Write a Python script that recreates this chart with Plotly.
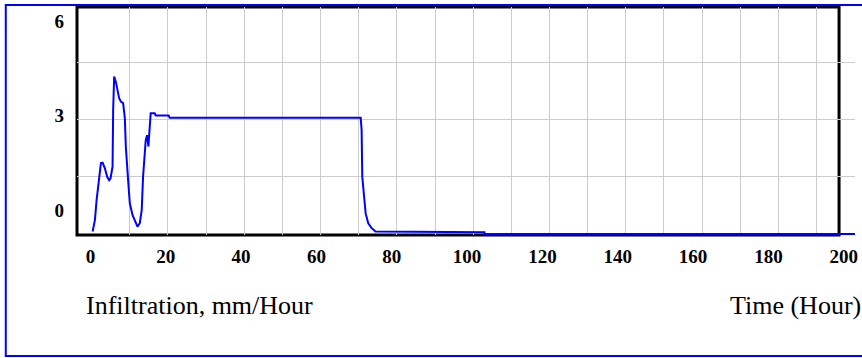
import plotly.graph_objects as go

# Data
time_hours = [0.58, 1.19, 1.64, 2.25, 2.78, 3.23, 3.84, 4.44, 4.97, 5.34, 5.87, 6.03, 6.30,
              6.75, 7.20, 7.62, 8.07, 8.68, 9.13, 9.39, 10.0, 10.45, 11.16, 11.77, 12.49,
              13.1, 13.62, 13.97, 14.42, 14.68, 15.03, 15.4, 15.56, 16.0, 17.06, 17.33,
              20.77, 21.03, 71.75, 72.0, 72.17, 72.62, 73.07, 73.76, 74.66, 75.71,
              104.6, 104.6, 203.0]
infiltration = [0.03, 0.34, 0.87, 1.39, 1.84, 1.85, 1.70, 1.48, 1.39, 1.44, 1.75, 3.25, 4.13,
                3.99, 3.73, 3.56, 3.47, 3.43, 3.03, 2.28, 1.39, 0.78, 0.47, 0.34, 0.16,
                0.25, 0.60, 1.48, 2.10, 2.45, 2.58, 2.28, 2.54, 3.16, 3.16, 3.10,
                3.10, 3.04, 3.04, 2.72, 1.48, 0.95, 0.51, 0.25, 0.12, 0.03,
                0.01, -0.035, -0.035]

x_tick_labels = ["0", "20", "40", "60", "80", "100", "120", "140", "160", "180", "200"]
x_tick_values = [0, 20, 40, 60, 80, 100, 120, 140, 160, 180, 200]
y_tick_labels = ["0", "3", "6"]

x_title = "Infiltration, mm/Hour"
x_title_right = "Time (Hour)"

FONT = "Liberation Serif, Times New Roman, serif"
GRID = "#cccccc"

# layout geometry (pixels)
W, H = 862, 358
L, R, T, B = 77, 4, 7, 123
pw = W - L - R
ph = H - T - B

def px_x(p):
    return (p - L) / pw

def px_y(p):
    return (H - B - p) / ph

fig = go.Figure()
fig.add_trace(go.Scatter(
    x=time_hours, y=infiltration, mode="lines",
    line=dict(color="#0000ff", width=2),
    showlegend=False, hoverinfo="skip",
))

grid_x = [10.45 + 10.13 * k for k in range(19)]

fig.update_layout(
    width=W, height=H,
    margin=dict(l=L, r=R, t=T, b=B, pad=0),
    paper_bgcolor="white", plot_bgcolor="white",
    font=dict(family=FONT, color="black"),
    xaxis=dict(
        range=[-3.57, 203.0],
        tickmode="array", tickvals=x_tick_values, ticktext=x_tick_labels,
        showgrid=False, zeroline=False, showline=False,
        ticks="", ticklabelstandoff=8,
        tickfont=dict(family=FONT, size=19, color="black", weight="bold"),
        minor=dict(tickmode="array", tickvals=grid_x, showgrid=True,
                   gridcolor=GRID, gridwidth=1, ticks=""),
    ),
    yaxis=dict(
        range=[-0.061, 5.971],
        tickmode="array", tickvals=[0.6, 3.1, 5.6], ticktext=y_tick_labels,
        showgrid=False, zeroline=False, showline=False,
        ticks="", ticklabelstandoff=12,
        tickfont=dict(family=FONT, size=19, color="black", weight="bold"),
        minor=dict(tickmode="array", tickvals=[1.5, 3.0, 4.5], showgrid=True,
                   gridcolor=GRID, gridwidth=1, ticks=""),
    ),
    shapes=[
        # black frame around plotting area
        dict(type="rect", xref="paper", yref="paper",
             x0=0, x1=px_x(842), y0=0, y1=1,
             line=dict(color="black", width=3), layer="between"),
        # blue outer border
        dict(type="rect", xref="paper", yref="paper",
             x0=px_x(5.5), x1=px_x(875), y0=px_y(356), y1=px_y(5),
             line=dict(color="#0000ff", width=2), layer="above"),
    ],
    annotations=[
        dict(text=x_title, xref="paper", yref="paper",
             x=px_x(84), y=px_y(305), xanchor="left", yanchor="middle",
             showarrow=False, font=dict(family=FONT, size=26, color="black")),
        dict(text=x_title_right, xref="paper", yref="paper",
             x=px_x(731), y=px_y(305), xanchor="left", yanchor="middle",
             showarrow=False, font=dict(family=FONT, size=26, color="black")),
    ],
)

fig.write_html("out.html", config={"displayModeBar": False},
               post_script="document.body.style.margin='0';")
